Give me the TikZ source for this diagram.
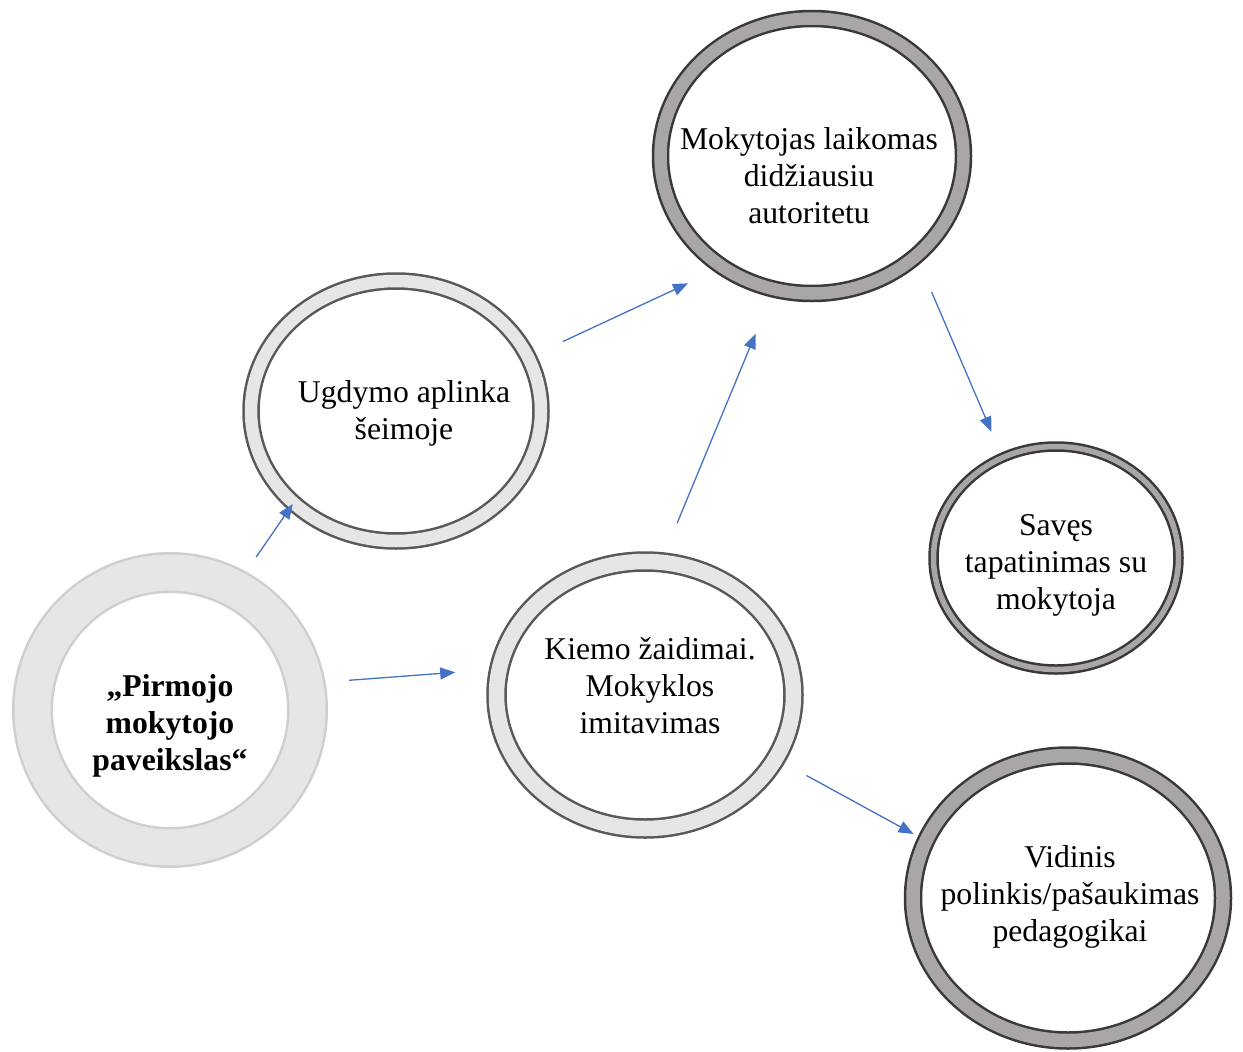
\documentclass[tikz,border=0pt]{standalone}
\usepackage{fontspec}
\setmainfont{Liberation Serif}
\usepackage{tikz}
\usetikzlibrary{arrows.meta,shapes.geometric}
\definecolor{ringlight}{HTML}{E7E6E6}
\definecolor{ringdark}{HTML}{AAA6A6}
\definecolor{rimlight}{HTML}{CFCFCF}
\definecolor{rimmid}{HTML}{595959}
\definecolor{rimdark}{HTML}{3A3838}
\definecolor{linkblue}{HTML}{4472C4}
\tikzstyle{ring}=[ellipse,inner sep=0pt,line width=2.5pt]
\tikzstyle{paleband}=[ring,draw=rimlight,line width=2.5pt,double=ringlight,double distance=36pt]
\tikzstyle{lightband}=[ring,draw=rimmid,double=ringlight]
\tikzstyle{darkband}=[ring,draw=rimdark,double=ringdark]
\tikzstyle{caption}=[align=center,inner sep=0pt,font=\fontsize{31.7}{37}\selectfont]
\tikzstyle{link}=[draw=linkblue,line width=1.3pt,-{Triangle[length=15pt,width=12pt]}]

\begin{document}
\begin{tikzpicture}[x=1pt,y=-1pt]
    \useasboundingbox (0,0) rectangle (1243,1052);
    % rings
    \node[paleband,minimum width=275pt,minimum height=275pt] (pir) at (170,710) {};
    \node[lightband,minimum width=290pt,minimum height=260pt,double distance=12.5pt] (ug) at (396,411) {};
    \node[lightband,minimum width=297pt,minimum height=267pt,double distance=15.5pt] (kie) at (645,695) {};
    \node[darkband,minimum width=303pt,minimum height=275pt,double distance=12.5pt] (mok) at (812,156) {};
    \node[darkband,minimum width=245pt,minimum height=223pt,double distance=5.5pt] (sav) at (1056,558) {};
    \node[darkband,minimum width=310pt,minimum height=285pt,double distance=13.5pt] (vid) at (1068,898) {};
    % texts
    \node[caption,font=\fontsize{31.7}{37}\selectfont\bfseries] (pirtxt) at (170,726) {„Pirmojo\\mokytojo\\paveikslas“};
    \node[caption] (ugtxt) at (404,413) {Ugdymo aplinka\\šeimoje};
    \node[caption] (kietxt) at (650,686) {Kiemo žaidimai.\\Mokyklos\\imitavimas};
    \node[caption] (moktxt) at (809,176) {Mokytojas laikomas\\didžiausiu\\autoritetu};
    \node[caption] (savtxt) at (1056,565) {Savęs\\tapatinimas su\\mokytoja};
    \node[caption] (vidtxt) at (1070,897) {Vidinis\\polinkis/pašaukimas\\pedagogikai};
    % arrows
    \foreach \source/\dest/\p/\q/\gapa/\gapb in {pir/ug/62/222/37/0, pir/kie/11/170/43/43, ug/mok/22/231/37/37, kie/mok/83/254/41/47, mok/sav/316/118/38/27, kie/vid/334/158/34/13}
        \path[link,shorten <=\gapa pt,shorten >=\gapb pt] (\source.\p) -- (\dest.\q);
\end{tikzpicture}
\end{document}
